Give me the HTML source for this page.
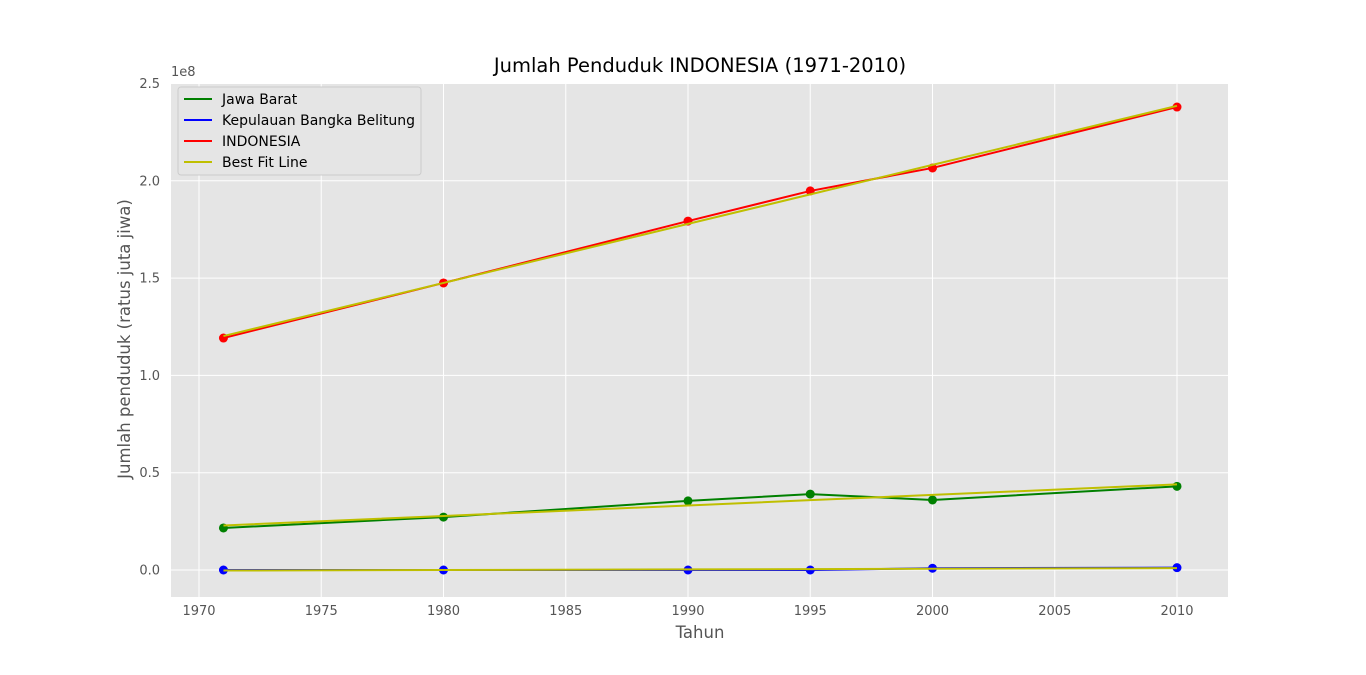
<!DOCTYPE html>
<html><head><meta charset="utf-8"><style>
body{margin:0;background:#fff;font-family:"DejaVu Sans","Liberation Sans",sans-serif}
svg text{font-family:"DejaVu Sans","Liberation Sans",sans-serif}
</style></head><body>
<svg id="chart" width="1366" height="671" xmlns="http://www.w3.org/2000/svg">
<rect x="171" y="83" width="1057" height="514" fill="#e5e5e5"/>
<g id="grid"></g><g id="series"></g><g id="ticks"></g>
<text x="700" y="72" text-anchor="middle" font-size="19.5" fill="#000">Jumlah Penduduk INDONESIA (1971-2010)</text>
<text x="700" y="638" text-anchor="middle" font-size="16.5" fill="#555">Tahun</text>
<text transform="translate(130,339) rotate(-90)" text-anchor="middle" font-size="16.5" fill="#555">Jumlah penduduk (ratus juta jiwa)</text>
<text x="171" y="76" font-size="13" fill="#555">1e8</text>
<g>
<rect x="178" y="87" width="243" height="88" fill="#e5e5e5" stroke="#ccc" rx="3"/>
<g id="legend"></g>
</g>
</svg>
<script>
const years=[1971,1980,1990,1995,2000,2010];
const jawaBarat=[0.216,0.272,0.355,0.390,0.360,0.430];
const bangka=[0.0,0.0,0.0,0.0,0.009,0.012];
const indonesia=[1.192,1.475,1.793,1.948,2.066,2.379];
const xTicks=[1970,1975,1980,1985,1990,1995,2000,2005,2010];
const yTicks=[0.0,0.5,1.0,1.5,2.0,2.5];
const NS="http://www.w3.org/2000/svg";
const X=v=>199+(v-1970)*24.45;
const Y=v=>570-v*194.6;
function mk(tag,attrs,parent){const e=document.createElementNS(NS,tag);for(const k in attrs)e.setAttribute(k,attrs[k]);parent.appendChild(e);return e;}
const grid=document.getElementById('grid'),ticks=document.getElementById('ticks'),ser=document.getElementById('series'),leg=document.getElementById('legend');
xTicks.forEach(t=>{
  const l=mk('line',{x1:X(t),x2:X(t),y1:83,y2:597,stroke:'#fff','stroke-width':1},grid);
  
  const tx=mk('text',{x:X(t),y:615,'text-anchor':'middle','font-size':13,fill:'#555'},ticks);
  tx.textContent=t;
});
yTicks.forEach(t=>{
  const l=mk('line',{x1:171,x2:1228,y1:Y(t),y2:Y(t),stroke:'#fff','stroke-width':1},grid);
  
  const tx=mk('text',{x:160,y:Y(t)+4.5,'text-anchor':'end','font-size':13,fill:'#555'},ticks);
  tx.textContent=t.toFixed(1);
});
function fit(ys){const n=years.length;const mx=years.reduce((a,b)=>a+b)/n,my=ys.reduce((a,b)=>a+b)/n;let sxy=0,sxx=0;years.forEach((x,i)=>{sxy+=(x-mx)*(ys[i]-my);sxx+=(x-mx)**2});const b=sxy/sxx;return years.map(x=>my+b*(x-mx));}
function line(ys,color,name,dots){
  const p=mk('polyline',{points:years.map((y,i)=>X(y)+','+Y(ys[i])).join(' '),fill:'none',stroke:color,'stroke-width':2},ser);
  
  if(dots)years.forEach((y,i)=>{const c=mk('circle',{cx:X(y),cy:Y(ys[i]),r:4.5,fill:color},ser);});
}
[[jawaBarat,'#008000','jawa-barat-line'],[bangka,'#0000ff','bangka-belitung-line'],[indonesia,'#ff0000','indonesia-line']].forEach(([d,c,n])=>{
  line(d,c,n,true);line(fit(d),'#bfbf00',n.replace('-line','')+'-fit-line',false);
});
const entries=[['Jawa Barat','#008000'],['Kepulauan Bangka Belitung','#0000ff'],['INDONESIA','#ff0000'],['Best Fit Line','#bfbf00']];
entries.forEach(([t,c],i)=>{
  const y=99+i*21;
  const l=mk('line',{x1:184,x2:212,y1:y,y2:y,stroke:c,'stroke-width':2},leg);
  
  const tx=mk('text',{x:222,y:y+5,'font-size':14,fill:'#000'},leg);
  tx.textContent=t;
});
</script>
</body></html>
